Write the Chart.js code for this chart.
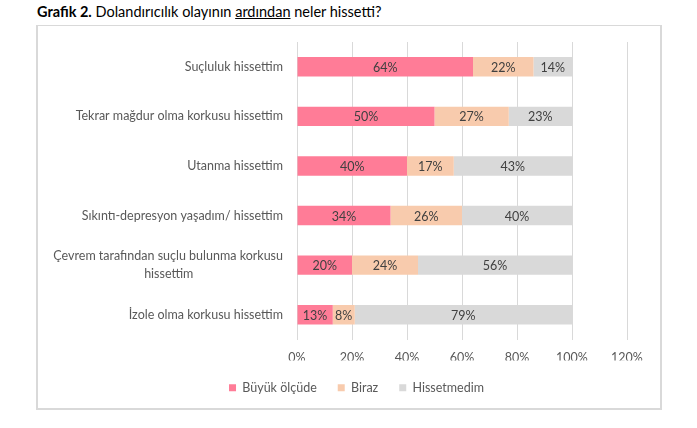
<!DOCTYPE html>
<html><head><meta charset="utf-8">
<script src="https://cdn.jsdelivr.net/npm/chart.js@4/dist/chart.umd.min.js"></script>
<style>
html,body{margin:0;padding:0;background:#fff;width:697px;height:428px;overflow:hidden;}
#title{position:absolute;left:37px;top:3px;font-family:Lato,"Open Sans",sans-serif;font-size:14.5px;color:#000;}
#title b{font-weight:700;}
#title u{text-decoration:underline;}
#box{position:absolute;left:36px;top:25px;width:622px;height:382px;border:2px solid #d9d9d9;border-top:1px solid #d9d9d9;}
#wrap{position:absolute;left:0;top:0;width:697px;height:428px;}
</style></head>
<body>
<div id="title"><b>Grafik 2.</b> Dolandırıcılık olayının <u>ardından</u> neler hissetti?</div>
<div id="box"></div>
<div id="wrap"><canvas id="c" width="697" height="428"></canvas></div>
<script>
const NB = '\u00A0';
const categories = [
  'Suçluluk hissettim',
  'Tekrar mağdur olma korkusu hissettim',
  'Utanma hissettim',
  'Sıkıntı-depresyon yaşadım/ hissettim',
  ['Çevrem tarafından suçlu bulunma korkusu', 'hissettim' + NB.repeat(28)],
  'İzole olma korkusu hissettim'
];
const seriesNames = ['Büyük ölçüde', 'Biraz', 'Hissetmedim'];
const buyukOlcude = [64, 50, 40, 34, 20, 13];
const biraz = [22, 27, 17, 26, 24, 8];
const hissetmedim = [14, 23, 43, 40, 56, 79];
const xTicks = [0, 20, 40, 60, 80, 100, 120];
const colors = ['#FF7C97', '#F8CBAD', '#D9D9D9'];

const FONT = 'Lato, "Open Sans", sans-serif';

const valueLabels = {
  id: 'valueLabels',
  afterDatasetsDraw(chart) {
    const ctx = chart.ctx;
    ctx.save();
    ctx.font = '12.5px ' + FONT;
    ctx.fillStyle = '#404040';
    ctx.textAlign = 'center';
    ctx.textBaseline = 'middle';
    chart.data.datasets.forEach((ds, di) => {
      const meta = chart.getDatasetMeta(di);
      meta.data.forEach((bar, i) => {
        const v = ds.data[i];
        const cx = (bar.x + bar.base) / 2;
        ctx.fillText(v + '%', cx, bar.y + 1);
      });
    });
    ctx.restore();
  }
};

const legendShift = {
  id: 'legendShift',
  afterLayout(chart) {
    const lg = chart.legend;
    if (lg) { lg.left += 22; lg.right += 22; }
  }
};

new Chart(document.getElementById('c'), {
  type: 'bar',
  data: {
    labels: categories,
    datasets: [
      { label: seriesNames[0], data: buyukOlcude, backgroundColor: colors[0] },
      { label: seriesNames[1], data: biraz, backgroundColor: colors[1] },
      { label: seriesNames[2], data: hissetmedim, backgroundColor: colors[2] }
    ]
  },
  options: {
    indexAxis: 'y',
    responsive: false,
    animation: false,
    devicePixelRatio: 1,
    layout: { padding: { left: 42, right: 70, top: 42, bottom: 24 } },
    datasets: { bar: { barPercentage: 0.39, categoryPercentage: 1.0 } },
    scales: {
      x: {
        stacked: true,
        min: 0, max: 120,
        afterBuildTicks(s) { s.ticks = xTicks.map(v => ({ value: v })); },
        afterFit(s) { s.height = s.height - 16; },
        ticks: { callback: v => v + '%', color: '#595959', font: { family: FONT, size: 12.5 }, padding: 11 },
        grid: { color: '#d9d9d9', drawTicks: false, lineWidth: 1 },
        border: { display: false }
      },
      y: {
        stacked: true,
        afterFit(s) { s.width = 255; },
        ticks: { color: '#595959', font: { family: FONT, size: 12.5, lineHeight: 1.45 }, padding: 14, crossAlign: 'near' },
        grid: { display: false, drawTicks: false },
        border: { display: false }
      }
    },
    plugins: {
      legend: {
        position: 'bottom',
        labels: { boxWidth: 7, boxHeight: 7, padding: 21, color: '#595959', font: { family: FONT, size: 12.5 } }
      },
      tooltip: { enabled: false }
    }
  },
  plugins: [valueLabels, legendShift]
});
</script>
</body></html>
